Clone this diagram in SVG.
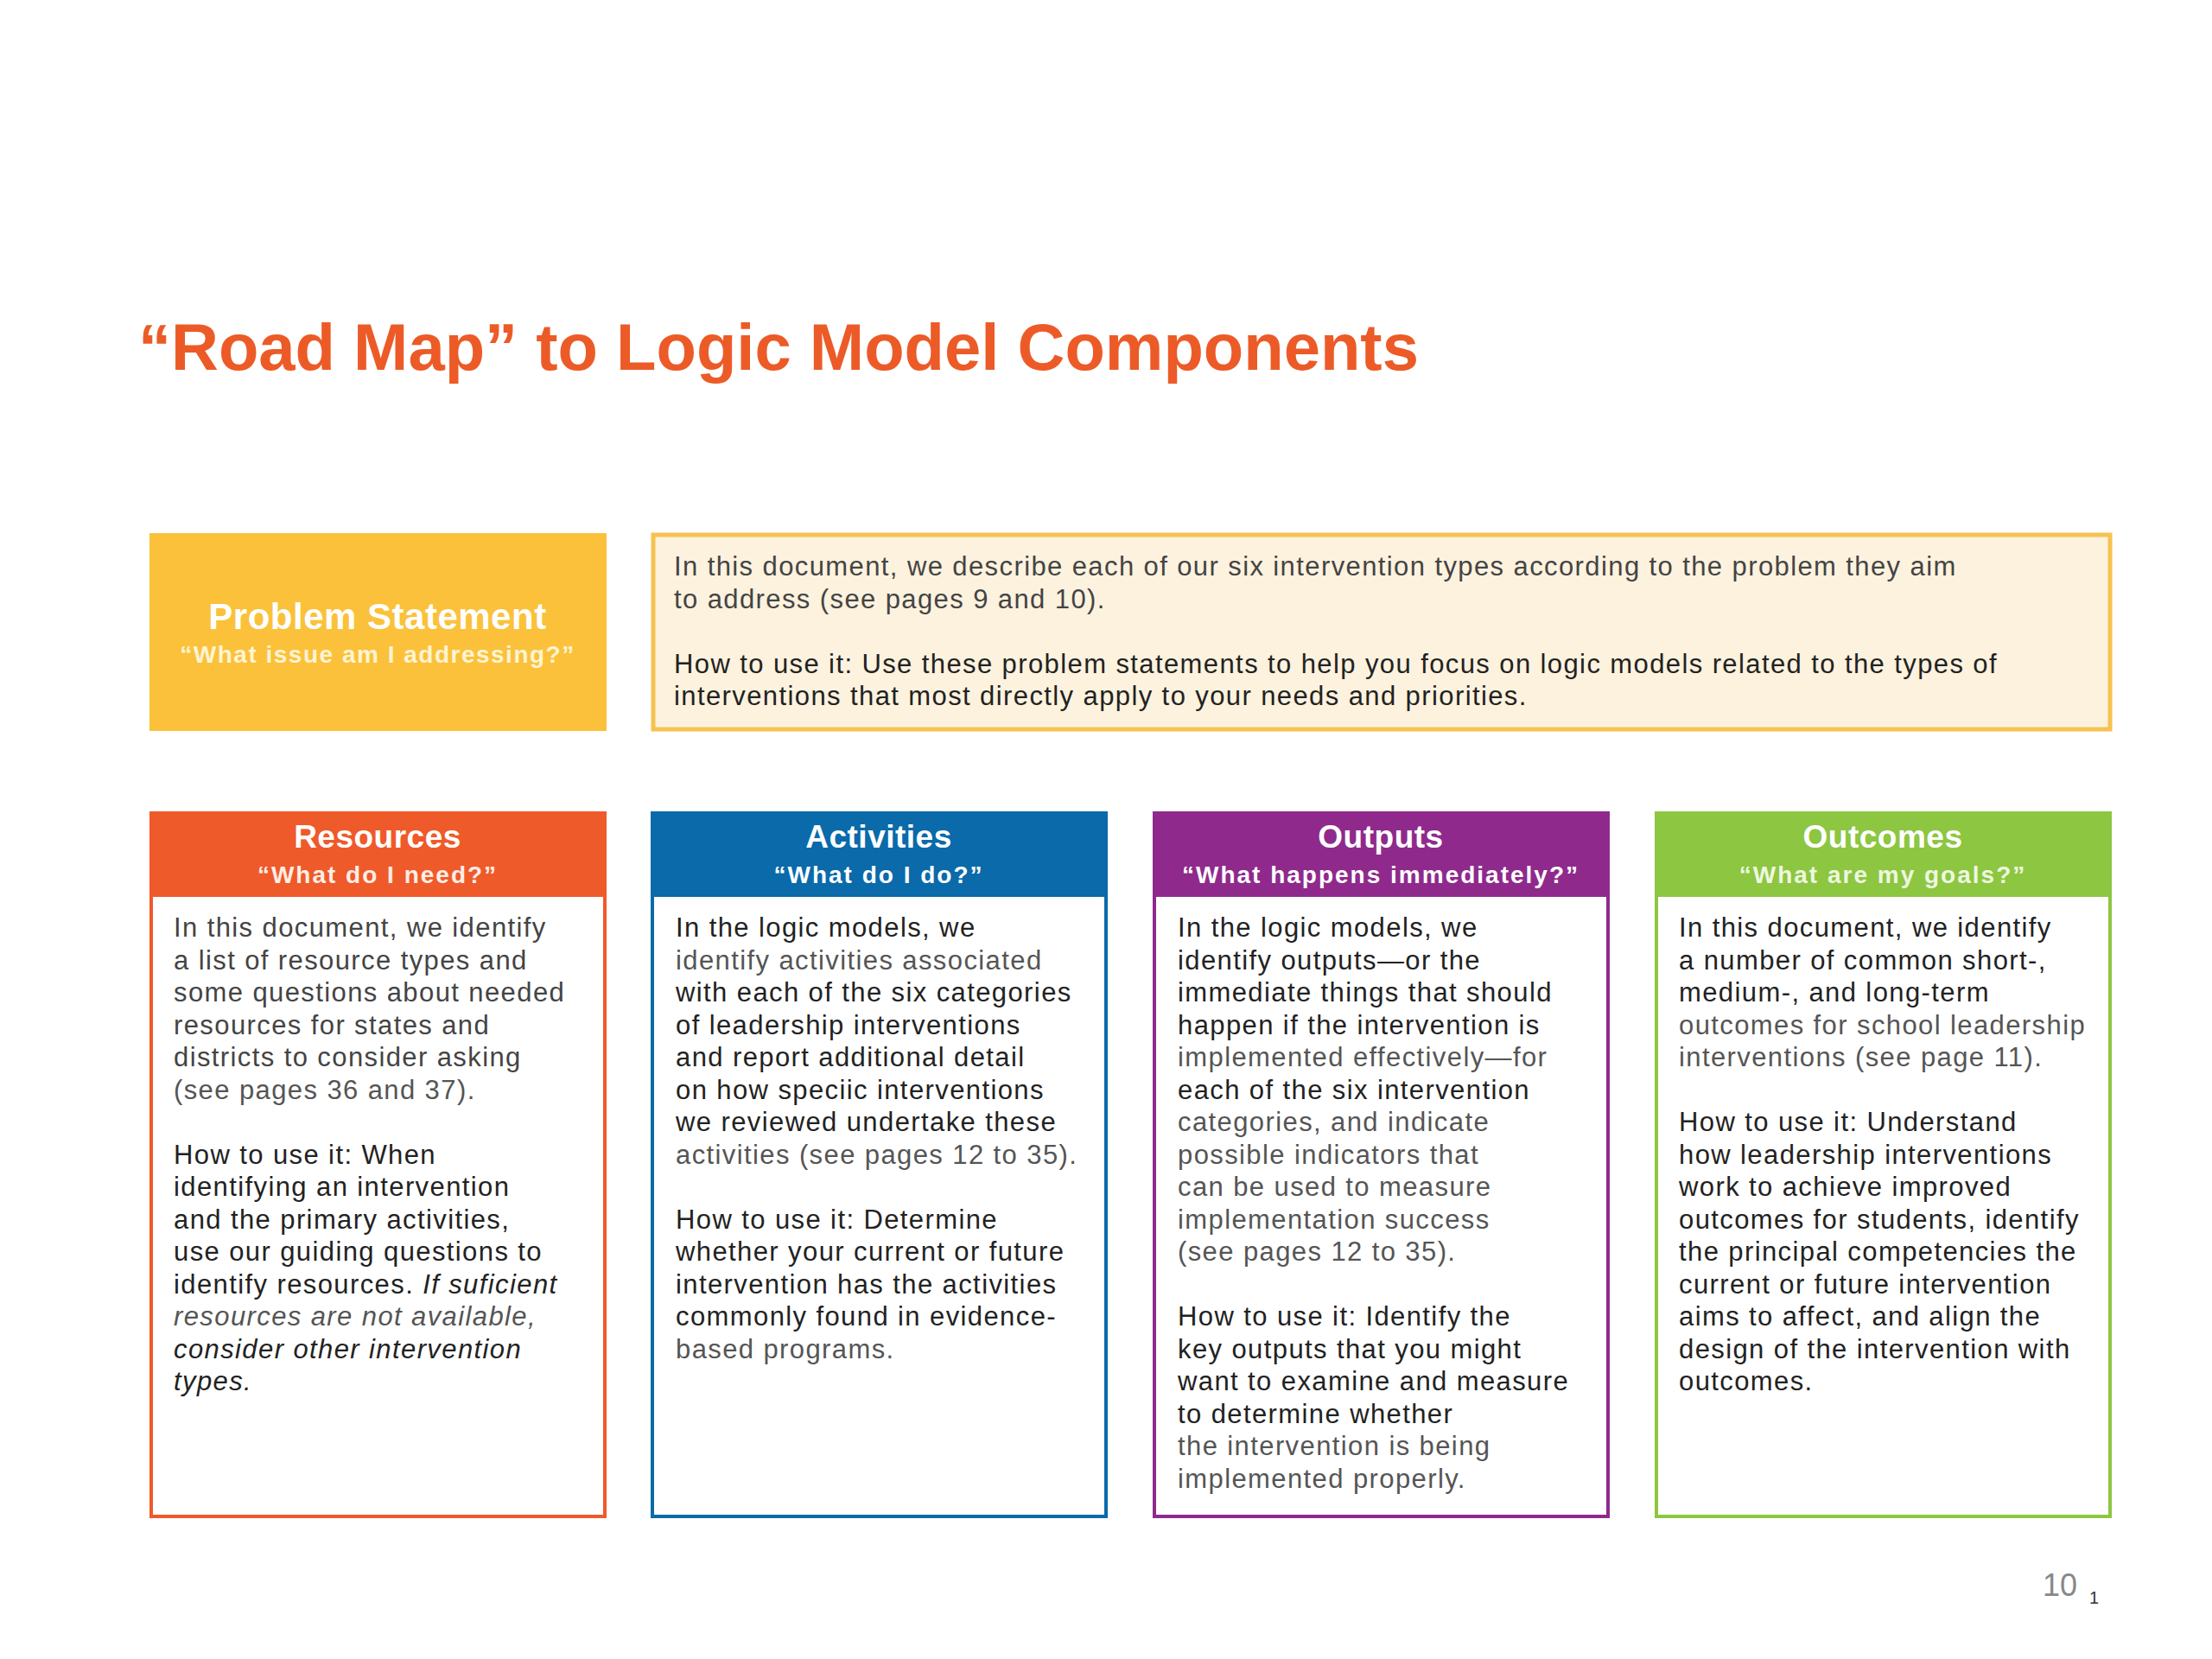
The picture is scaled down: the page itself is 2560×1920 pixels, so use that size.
<svg xmlns="http://www.w3.org/2000/svg" width="2560" height="1920" viewBox="0 0 2560 1920">
<style>
  .title { font-family: "Liberation Sans", Arial, sans-serif; font-weight: bold; font-size: 76px; fill: #EC5B27; }
  .body { font-family: "Liberation Sans", Arial, sans-serif; font-size: 31px; letter-spacing: 1.4px; fill: #444; }
  .dk { fill: #222; }
  .lt { fill: #555; }
  .it { font-style: italic; }
  .htitle { font-family: "Liberation Sans", Arial, sans-serif; font-weight: bold; font-size: 37px; fill: #fff; text-anchor: middle; letter-spacing: 0.5px; }
  .hsub { font-family: "Liberation Sans", Arial, sans-serif; font-weight: bold; font-size: 28px; fill: #fff; text-anchor: middle; letter-spacing: 2px; }
  .card { fill: #fff; stroke-width: 4; }
</style>
<rect width="2560" height="1920" fill="#fff"/>
<text class="title" x="160" y="428">“Road Map” to Logic Model Components</text>

<g id="problem-statement">
  <rect x="173" y="617" width="529" height="229" fill="#FBC13B"/>
  <text class="htitle" x="437" y="728" style="font-size:42px">Problem Statement</text>
  <text class="hsub" x="437" y="767" style="fill:#FFF4D2;font-size:28px;letter-spacing:1.5px">“What issue am I addressing?”</text>
</g>

<g id="problem-description">
  <rect x="756" y="619" width="1686" height="225" fill="#FDF2DE" stroke="#F6C24F" stroke-width="5"/>
  <text class="body" x="780" y="666">In this document, we describe each of our six intervention types according to the problem they aim</text>
  <text class="body" x="780" y="704">to address (see pages 9 and 10).</text>
  <text class="body dk" x="780" y="779">How to use it: Use these problem statements to help you focus on logic models related to the types of</text>
  <text class="body dk" x="780" y="816">interventions that most directly apply to your needs and priorities.</text>
</g>

<g id="resources">
  <rect class="card" x="175" y="941" width="525" height="814" stroke="#EF5A2A"/>
  <rect x="173" y="939" width="529" height="99" fill="#EF5A2A"/>
  <text class="htitle" x="437" y="981">Resources</text>
  <text class="hsub" x="437" y="1022" style="fill:#FDEEE6">“What do I need?”</text>
  <text class="body" x="201" y="1084">
    <tspan x="201" dy="0">In this document, we identify</tspan>
    <tspan x="201" dy="37.5">a list of resource types and</tspan>
    <tspan x="201" dy="37.5">some questions about needed</tspan>
    <tspan x="201" dy="37.5">resources for states and</tspan>
    <tspan x="201" dy="37.5">districts to consider asking</tspan>
    <tspan x="201" dy="37.5" class="lt">(see pages 36 and 37).</tspan>
    <tspan x="201" dy="75" class="dk">How to use it: When</tspan>
    <tspan x="201" dy="37.5" class="dk">identifying an intervention</tspan>
    <tspan x="201" dy="37.5" class="dk">and the primary activities,</tspan>
    <tspan x="201" dy="37.5" class="dk">use our guiding questions to</tspan>
    <tspan x="201" dy="37.5" class="dk">identify resources. <tspan class="it">If suficient</tspan></tspan>
    <tspan x="201" dy="37.5" class="it lt">resources are not available,</tspan>
    <tspan x="201" dy="37.5" class="it dk">consider other intervention</tspan>
    <tspan x="201" dy="37.5" class="it dk">types.</tspan>
  </text>
</g>

<g id="activities">
  <rect class="card" x="755" y="941" width="525" height="814" stroke="#0A6AAA"/>
  <rect x="753" y="939" width="529" height="99" fill="#0A6AAA"/>
  <text class="htitle" x="1017" y="981">Activities</text>
  <text class="hsub" x="1017" y="1022">“What do I do?”</text>
  <text class="body" x="782" y="1084">
    <tspan x="782" dy="0" class="dk">In the logic models, we</tspan>
    <tspan x="782" dy="37.5" class="lt">identify activities associated</tspan>
    <tspan x="782" dy="37.5" class="dk">with each of the six categories</tspan>
    <tspan x="782" dy="37.5" class="dk">of leadership interventions</tspan>
    <tspan x="782" dy="37.5" class="dk">and report additional detail</tspan>
    <tspan x="782" dy="37.5" class="dk">on how speciic interventions</tspan>
    <tspan x="782" dy="37.5" class="dk">we reviewed undertake these</tspan>
    <tspan x="782" dy="37.5" class="lt">activities (see pages 12 to 35).</tspan>
    <tspan x="782" dy="75" class="dk">How to use it: Determine</tspan>
    <tspan x="782" dy="37.5" class="dk">whether your current or future</tspan>
    <tspan x="782" dy="37.5" class="dk">intervention has the activities</tspan>
    <tspan x="782" dy="37.5" class="dk">commonly found in evidence-</tspan>
    <tspan x="782" dy="37.5" class="lt">based  programs.</tspan>
  </text>
</g>

<g id="outputs">
  <rect class="card" x="1336" y="941" width="525" height="814" stroke="#8F2A8C"/>
  <rect x="1334" y="939" width="529" height="99" fill="#8F2A8C"/>
  <text class="htitle" x="1598" y="981">Outputs</text>
  <text class="hsub" x="1598" y="1022">“What happens immediately?”</text>
  <text class="body" x="1363" y="1084">
    <tspan x="1363" dy="0" class="dk">In the logic models, we</tspan>
    <tspan x="1363" dy="37.5" class="dk">identify outputs—or the</tspan>
    <tspan x="1363" dy="37.5" class="dk">immediate things that should</tspan>
    <tspan x="1363" dy="37.5" class="dk">happen if the intervention is</tspan>
    <tspan x="1363" dy="37.5" class="lt">implemented  effectively—for</tspan>
    <tspan x="1363" dy="37.5" class="dk">each of the six intervention</tspan>
    <tspan x="1363" dy="37.5" class="lt">categories, and indicate</tspan>
    <tspan x="1363" dy="37.5" class="lt">possible indicators that</tspan>
    <tspan x="1363" dy="37.5" class="lt">can be used to measure</tspan>
    <tspan x="1363" dy="37.5" class="lt">implementation  success</tspan>
    <tspan x="1363" dy="37.5" class="lt">(see pages 12 to 35).</tspan>
    <tspan x="1363" dy="75" class="dk">How to use it: Identify the</tspan>
    <tspan x="1363" dy="37.5" class="dk">key outputs that you might</tspan>
    <tspan x="1363" dy="37.5" class="dk">want to examine and measure</tspan>
    <tspan x="1363" dy="37.5" class="dk">to determine whether</tspan>
    <tspan x="1363" dy="37.5" class="lt">the intervention is being</tspan>
    <tspan x="1363" dy="37.5" class="lt">implemented  properly.</tspan>
  </text>
</g>

<g id="outcomes">
  <rect class="card" x="1917" y="941" width="525" height="814" stroke="#8DC641"/>
  <rect x="1915" y="939" width="529" height="99" fill="#8DC641"/>
  <text class="htitle" x="2179" y="981">Outcomes</text>
  <text class="hsub" x="2179" y="1022" style="fill:#EEF7E0">“What are my goals?”</text>
  <text class="body" x="1943" y="1084">
    <tspan x="1943" dy="0" class="dk">In this document, we identify</tspan>
    <tspan x="1943" dy="37.5" class="dk">a number of common short-,</tspan>
    <tspan x="1943" dy="37.5" class="dk">medium-, and long-term</tspan>
    <tspan x="1943" dy="37.5" class="lt">outcomes for school leadership</tspan>
    <tspan x="1943" dy="37.5" class="lt">interventions (see page 11).</tspan>
    <tspan x="1943" dy="75" class="dk">How to use it: Understand</tspan>
    <tspan x="1943" dy="37.5" class="dk">how leadership interventions</tspan>
    <tspan x="1943" dy="37.5" class="dk">work to achieve improved</tspan>
    <tspan x="1943" dy="37.5" class="dk">outcomes for students, identify</tspan>
    <tspan x="1943" dy="37.5" class="dk">the principal competencies the</tspan>
    <tspan x="1943" dy="37.5" class="dk">current or future intervention</tspan>
    <tspan x="1943" dy="37.5" class="dk">aims to affect, and align the</tspan>
    <tspan x="1943" dy="37.5" class="dk">design of the intervention with</tspan>
    <tspan x="1943" dy="37.5" class="dk">outcomes.</tspan>
  </text>
</g>

<g id="connectors"></g>

<text x="2364" y="1847" style="font-family:'Liberation Sans',Arial,sans-serif;font-size:36px;fill:#888">10</text>
<text x="2418" y="1856" style="font-family:'Liberation Sans',Arial,sans-serif;font-size:20px;fill:#333">1</text>
</svg>
